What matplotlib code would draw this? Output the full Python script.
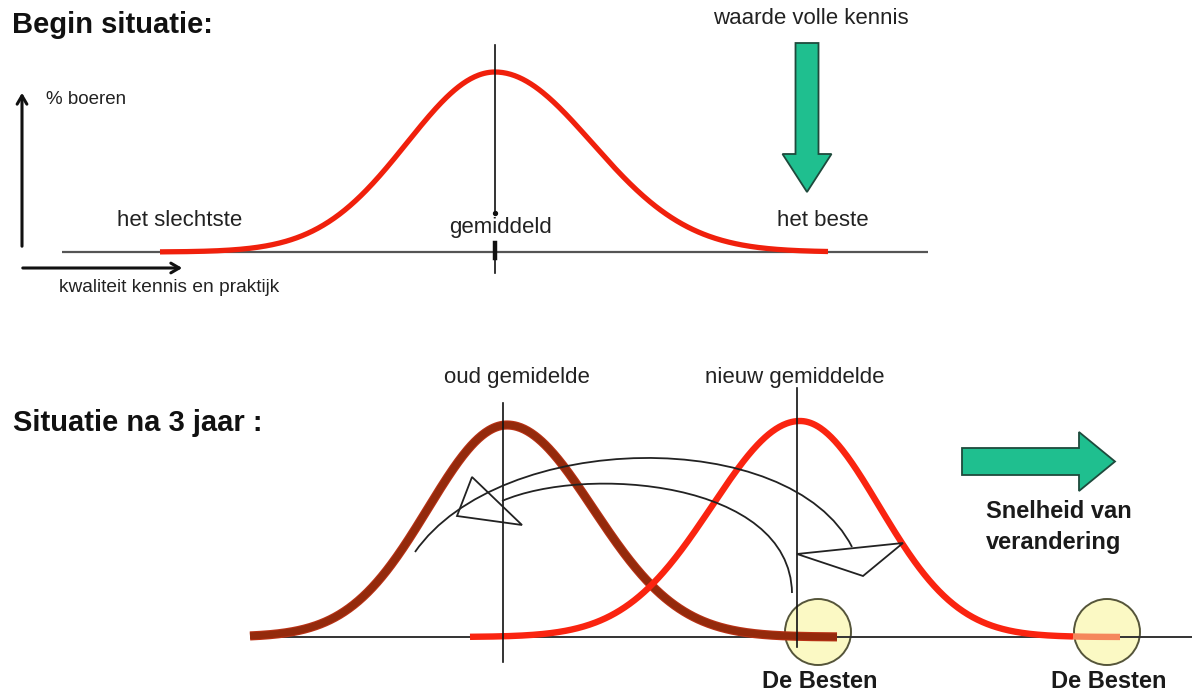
import numpy as np
import matplotlib
matplotlib.use("Agg")
import matplotlib.pyplot as plt
from matplotlib.patches import FancyArrow, Circle, Polygon, PathPatch
from matplotlib.path import Path

plt.rcParams['font.family'] = ['Liberation Sans', 'DejaVu Sans']

# ---- data (pixel units of the 1192x696 canvas) ----
curve_names = ["begin", "oud", "nieuw"]
curve_mean = [495, 507, 800]
curve_sigma_left = [88, 79, 88]
curve_sigma_right = [97, 86, 79]
curve_peak = [180, 212, 216]
curve_start = [160, 250, 470]
curve_end = [828, 837, 1120]
curve_base = [252, 637, 637]

best_zone_start = 1073           # where the new curve turns salmon ("De Besten")
mean_lines_x = [495, 503, 797]
mean_lines_top = [45, 403, 388]
mean_lines_bottom = [273, 662, 647]

circle_x = [818, 1107]
circle_labels = ["De Besten", "De Besten"]

labels_regular = ["% boeren", "kwaliteit kennis en praktijk", "het slechtste",
                  "gemiddeld", "het beste", "waarde volle kennis",
                  "oud gemidelde", "nieuw gemiddelde"]
labels_bold = ["Begin situatie:", "Situatie na 3 jaar :", "Snelheid van\nverandering"]

# ---- figure ----
fig = plt.figure(figsize=(11.92, 6.96), dpi=100)
ax = fig.add_axes([0, 0, 1, 1])
ax.set_xlim(0, 1192)
ax.set_ylim(696, 0)
ax.axis('off')


def bell(i, x):
    mu = curve_mean[i]
    s = np.where(x < mu, curve_sigma_left[i], curve_sigma_right[i])
    return curve_base[i] - curve_peak[i] * np.exp(-(x - mu) ** 2 / (2 * s ** 2))


# baselines
ax.plot([62, 928], [252, 252], color='#555555', lw=1.6, zorder=2, solid_capstyle='butt')
ax.plot([250, 1192], [637, 637], color='#333333', lw=1.4, zorder=2, solid_capstyle='butt')

# circles for "De Besten"
for cx, lab in zip(circle_x, circle_labels):
    ax.add_patch(Circle((cx, 632), 33, facecolor='#fbf9c4', edgecolor='#55553a', lw=1.4, zorder=1.5))
    ax.text(cx + 2, 682, lab, fontsize=17, fontweight='bold', color='#1a1a1a',
            ha='center', va='center')

# curves
x0 = np.linspace(curve_start[0], curve_end[0], 500)
ax.plot(x0, bell(0, x0), color='#f0200c', lw=3.8, zorder=3, solid_capstyle='butt')

x1 = np.linspace(curve_start[1], curve_end[1], 500)
ax.plot(x1, bell(1, x1), color='#b83216', lw=6.6, zorder=3, solid_capstyle='butt')
ax.plot(x1, bell(1, x1), color='#942a0c', lw=5, zorder=3.1, solid_capstyle='butt')

x2 = np.linspace(curve_start[2], best_zone_start, 500)
ax.plot(x2, bell(2, x2), color='#fa2410', lw=4.6, zorder=3.2, solid_capstyle='butt')
x3 = np.linspace(best_zone_start, curve_end[2], 60)
ax.plot(x3, bell(2, x3), color='#f5875c', lw=4.6, zorder=3.2, solid_capstyle='butt')

# mean lines (the top one is interrupted by its label)
ax.plot([mean_lines_x[0]] * 2, [mean_lines_top[0], 213], color='#111111', lw=1.2, zorder=4)
ax.plot([mean_lines_x[0]] * 2, [243, mean_lines_bottom[0]], color='#111111', lw=1.2, zorder=4)
ax.plot([mean_lines_x[0]] * 2, [243, 258], color='#111111', lw=3.2, zorder=4)
ax.plot([mean_lines_x[0]], [213], marker='o', ms=2.8, color='#111111', zorder=4)
for mx, t, b in zip(mean_lines_x[1:], mean_lines_top[1:], mean_lines_bottom[1:]):
    ax.plot([mx, mx], [t, b], color='#111111', lw=1.2, zorder=4)

# axes arrows (top-left)
ax.annotate('', xy=(22, 90), xytext=(22, 249),
            arrowprops=dict(arrowstyle='->,head_length=0.6,head_width=0.35', lw=2.2, color='#111111'))
ax.annotate('', xy=(185, 268), xytext=(20, 268),
            arrowprops=dict(arrowstyle='->,head_length=0.6,head_width=0.35', lw=2.2, color='#111111'))

# green arrows
ax.add_patch(FancyArrow(807, 43, 0, 149, width=23, head_width=49, head_length=38,
                        length_includes_head=True, facecolor='#1fbf8f', edgecolor='#1e4a3c',
                        lw=1.3, zorder=5))
ax.add_patch(FancyArrow(962, 461.5, 153, 0, width=27, head_width=59, head_length=36,
                        length_includes_head=True, facecolor='#1fbf8f', edgecolor='#1e4a3c',
                        lw=1.3, zorder=5))

# curved hollow arrows
outer = Path([(415, 552), (500, 430), (790, 425), (852, 547)],
             [Path.MOVETO, Path.CURVE4, Path.CURVE4, Path.CURVE4])
inner = Path([(502, 501), (585, 465), (790, 480), (792, 593)],
             [Path.MOVETO, Path.CURVE4, Path.CURVE4, Path.CURVE4])
for p in (outer, inner):
    ax.add_patch(PathPatch(p, fill=False, edgecolor='#222222', lw=1.3, zorder=4))
ax.add_patch(Polygon([(472, 477), (457, 516), (522, 525)], closed=True, fill=False,
                     edgecolor='#222222', lw=1.3, zorder=4))
ax.add_patch(Polygon([(797, 554), (903, 543), (863, 576)], closed=True, fill=False,
                     edgecolor='#222222', lw=1.3, zorder=4))

# texts
tc = '#222222'
ax.text(12, 25, labels_bold[0], fontsize=21, fontweight='bold', color='#111111', va='center', ha='left')
ax.text(13, 423, labels_bold[1], fontsize=21, fontweight='bold', color='#111111', va='center', ha='left')
ax.text(986, 527, labels_bold[2], fontsize=17, fontweight='bold', color='#1a1a1a', va='center', ha='left',
        linespacing=1.4)

ax.text(46, 100, labels_regular[0], fontsize=13.5, color=tc, va='center', ha='left')
ax.text(59, 288, labels_regular[1], fontsize=13.8, color=tc, va='center', ha='left')
ax.text(180, 221, labels_regular[2], fontsize=16, color=tc, va='center', ha='center')
ax.text(500, 228, labels_regular[3], fontsize=16, color=tc, va='center', ha='center')
ax.text(823, 220, labels_regular[4], fontsize=16, color=tc, va='center', ha='center')
ax.text(811, 19, labels_regular[5], fontsize=16, color=tc, va='center', ha='center')
ax.text(517, 378, labels_regular[6], fontsize=16, color=tc, va='center', ha='center')
ax.text(795, 377, labels_regular[7], fontsize=16, color=tc, va='center', ha='center')

fig.savefig('out.png', dpi=100)
